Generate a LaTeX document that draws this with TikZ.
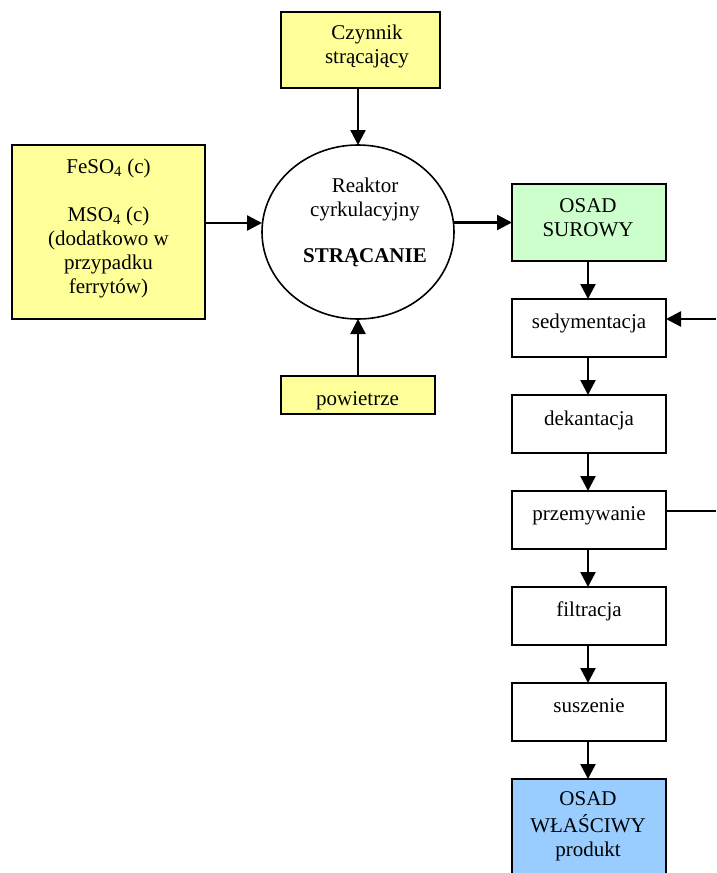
\documentclass[tikz,border=0pt]{standalone}
\usepackage{fontspec}
\setmainfont{Liberation Serif}
\usetikzlibrary{arrows.meta,shapes.geometric}
\definecolor{paleyellow}{HTML}{FFFF99}
\definecolor{palegreen}{HTML}{CCFFCC}
\definecolor{paleblue}{HTML}{99CCFF}
\begin{document}
\begin{tikzpicture}[x=1pt,y=-1pt,
  box/.style={draw=black, line width=1.6pt, rectangle, inner sep=0pt, outer sep=0pt},
  stepbox/.style={box, fill=white, minimum width=154pt, minimum height=58pt},
  txt/.style={font=\fontsize{21}{24}\selectfont, align=center, inner sep=0pt},
  arr/.style={line width=2.4pt, -{Triangle[length=15pt,width=15pt]}},
  feed/.style={line width=1.8pt}]
\clip (0,0) rectangle (716,873);

% inputs of the reactor
\node[box, fill=paleyellow, minimum width=159pt, minimum height=76pt] (czynnik) at (360.5,50) {};
\node[txt] (czynnik-t) at (367,46.2) {\strut Czynnik\\strącający\strut};

\node[box, fill=paleyellow, minimum width=193pt, minimum height=174pt] (feso) at (108.5,232) {};
\node[txt] (feso-t) at (108.5,228.2) {\strut FeSO\textsubscript{4} (c)\\[24pt]MSO\textsubscript{4} (c)\\(dodatkowo w\\przypadku\\ferrytów)\strut};

\node[box, fill=paleyellow, minimum width=154pt, minimum height=38pt] (air) at (358,395) {};
\node[txt] (air-t) at (357.5,400.2) {\strut powietrze};

% reactor
\node[draw=black, ellipse, line width=1.6pt, fill=white, minimum width=192pt, minimum height=174pt, inner sep=0pt, outer sep=0pt] (reactor) at (358,232) {};
\node[txt] (reactor-t) at (365,222.2) {\strut Reaktor\\cyrkulacyjny\\[22pt]\textbf{STRĄCANIE}\strut};

% processing line
\node[box, fill=palegreen, minimum width=154pt, minimum height=77pt] (surowy) at (589,222.5) {};
\node[txt] (surowy-t) at (588,219.4) {\strut OSAD\\SUROWY\strut};

\node[stepbox] (sed) at (589,328) {};
\node[txt] (sed-t) at (589,323.2) {\strut sedymentacja};
\node[stepbox] (dek) at (589,424) {};
\node[txt] (dek-t) at (589,420.2) {\strut dekantacja};
\node[stepbox] (prz) at (589,520) {};
\node[txt] (prz-t) at (589,515.2) {\strut przemywanie};
\node[stepbox] (fil) at (589,616) {};
\node[txt] (fil-t) at (589,611.2) {\strut filtracja};
\node[stepbox] (sus) at (589,712) {};
\node[txt] (sus-t) at (589,707.2) {\strut suszenie};

\node[box, fill=paleblue, minimum width=154pt, minimum height=97pt] (wlasciwy) at (589,827.5) {};
\node[txt] (wlasciwy-t) at (588,826.2) {\strut OSAD\\WŁAŚCIWY\\produkt\strut};

% connectors
\draw[arr] (reactor.north |- czynnik.south) -- (reactor.north);
\draw[arr] (air.north) -- (reactor.south);
\draw[arr] ([yshift=9pt]feso.east) -- ([yshift=9pt]reactor.west);
\draw[arr] (reactor.east |- surowy.west) -- (surowy.west);

\draw[arr] ([xshift=-1pt]surowy.south) -- ([xshift=-1pt]sed.north);
\draw[arr] ([xshift=-1pt]sed.south) -- ([xshift=-1pt]dek.north);
\draw[arr] ([xshift=-1pt]dek.south) -- ([xshift=-1pt]prz.north);
\draw[arr] ([xshift=-1pt]prz.south) -- ([xshift=-1pt]fil.north);
\draw[arr] ([xshift=-1pt]fil.south) -- ([xshift=-1pt]sus.north);
\draw[arr] ([xshift=-1pt]sus.south) -- ([xshift=-1pt]wlasciwy.north);

\coordinate (inlet) at (716,319);
\draw[arr] (inlet) -- (inlet -| sed.east);
\coordinate (outlet) at (716,511);
\draw[feed] (outlet -| prz.east) -- (outlet);
\end{tikzpicture}
\end{document}
